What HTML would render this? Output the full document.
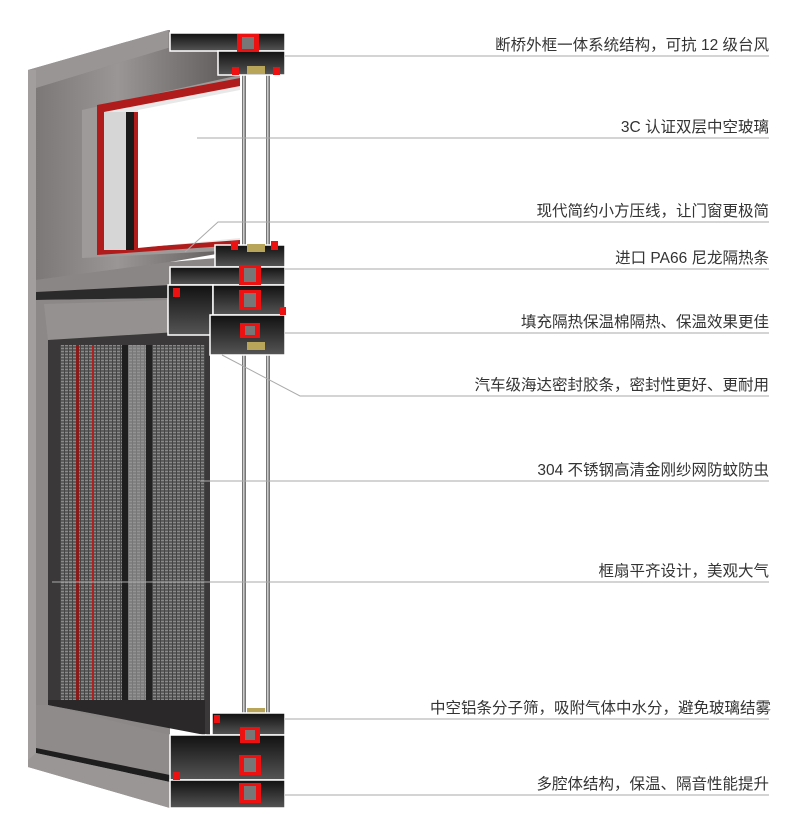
<!DOCTYPE html>
<html><head><meta charset="utf-8"><style>
html,body{margin:0;padding:0;background:#fff;width:800px;height:835px;overflow:hidden}
svg{display:block}
text{font-family:"Liberation Sans","Noto Sans CJK SC",sans-serif;font-size:15.5px;fill:#333}
</style></head><body>
<svg width="800" height="835" viewBox="0 0 800 835" xmlns="http://www.w3.org/2000/svg">
<defs>
<linearGradient id="g1" x1="0" x2="1" y1="0" y2="0"><stop offset="0" stop-color="#7c7878"/><stop offset="0.4" stop-color="#9a9696"/><stop offset="1" stop-color="#5a5656"/></linearGradient>
<pattern id="mesh" width="4" height="3" patternUnits="userSpaceOnUse"><rect width="4" height="3" fill="#5e5e5e"/><rect width="4" height="1" fill="#8a8a8a"/><rect width="1" height="3" fill="#444"/></pattern>
<linearGradient id="blk" x1="0" x2="0" y1="0" y2="1"><stop offset="0" stop-color="#111"/><stop offset="1" stop-color="#555"/></linearGradient>
</defs>
<!-- outer frame -->
<polygon points="28,70 168,30 170,30 170,808 28,767" fill="#8d8989"/>
<polygon points="28,70 168,30 168,48 36,88" fill="#999595"/>
<rect x="28" y="70" width="8" height="697" fill="#a29e9e"/>
<!-- upper pane recess -->
<polygon points="36,88 168,48 240,48 240,250 170,262 36,280" fill="url(#g1)"/>
<polygon points="82,110 240,75 240,250 82,258" fill="#9e9a9a"/>
<polygon points="97,105 240,78 240,245 97,255" fill="#b01c1c"/>
<polygon points="104,112 240,86 240,240 104,250" fill="#e8e8e8"/>
<rect x="104" y="112" width="22" height="138" fill="#d6d6d6"/>
<rect x="126" y="112" width="8" height="138" fill="#1a1a1a"/>
<rect x="134" y="112" width="4" height="138" fill="#b01c1c"/>
<polygon points="138,110 240,90 240,238 138,248" fill="#fff"/>
<!-- transom -->
<polygon points="36,280 170,262 240,256 240,268 170,285 36,292" fill="#8a8686"/>
<polygon points="36,292 170,285 170,298 36,300" fill="#2a2a2a"/>
<!-- lower sash -->
<polygon points="36,300 170,298 170,775 36,760" fill="#8c8888"/>
<polygon points="44,304 170,300 170,335 48,340" fill="#959191"/>
<polygon points="48,340 210,330 210,735 48,705" fill="#3a3838"/>
<rect x="60" y="345" width="145" height="355" fill="url(#mesh)"/>
<rect x="76" y="345" width="3" height="355" fill="#8a1a1a"/>
<rect x="92" y="345" width="2" height="355" fill="#b02020"/>
<rect x="122" y="345" width="6" height="355" fill="#1e1e1e"/>
<rect x="128" y="345" width="18" height="355" fill="#9a9a9a" opacity="0.6"/>
<rect x="146" y="345" width="6" height="355" fill="#222"/>
<polygon points="48,700 205,700 205,735 48,705" fill="#2a2828"/>
<polygon points="36,705 48,705 170,735 170,775 36,748" fill="#8f8b8b"/>
<polygon points="36,748 170,775 170,782 36,753" fill="#1e1e1e"/>
<polygon points="28,760 36,753 170,782 170,808 28,767" fill="#9a9696"/>
<!-- glass -->
<rect x="242" y="70" width="4" height="650" fill="#777"/>
<rect x="243" y="70" width="1.5" height="650" fill="#ccc"/>
<rect x="266" y="70" width="4" height="650" fill="#777"/>
<rect x="267" y="70" width="1.5" height="650" fill="#ccc"/>
<!-- top profile -->
<rect x="170" y="33" width="115" height="18" fill="url(#blk)" stroke="#fff" stroke-width="1.5"/>
<rect x="218" y="51" width="67" height="24" fill="url(#blk)" stroke="#fff" stroke-width="1.5"/>
<rect x="237" y="34" width="22" height="18" fill="#e11"/><rect x="242" y="37" width="12" height="12" fill="#777"/>
<rect x="247" y="66" width="18" height="8" fill="#b8a55a"/>
<rect x="232" y="67" width="7" height="8" fill="#e11"/><rect x="273" y="67" width="7" height="8" fill="#e11"/>
<!-- middle profile -->
<rect x="215" y="245" width="70" height="22" fill="url(#blk)" stroke="#fff" stroke-width="1.5"/>
<rect x="247" y="244" width="18" height="8" fill="#b8a55a"/>
<rect x="231" y="241" width="7" height="9" fill="#e11"/><rect x="271" y="241" width="7" height="9" fill="#e11"/>
<rect x="170" y="267" width="115" height="18" fill="url(#blk)" stroke="#fff" stroke-width="1.5"/>
<rect x="168" y="285" width="45" height="50" fill="url(#blk)" stroke="#fff" stroke-width="1.5"/>
<rect x="213" y="285" width="72" height="30" fill="url(#blk)" stroke="#fff" stroke-width="1.5"/>
<rect x="210" y="315" width="75" height="40" fill="url(#blk)" stroke="#fff" stroke-width="1.5"/>
<rect x="239" y="265" width="22" height="20" fill="#e11"/><rect x="244" y="268" width="12" height="14" fill="#777"/>
<rect x="239" y="290" width="22" height="20" fill="#e11"/><rect x="244" y="293" width="12" height="14" fill="#777"/>
<rect x="240" y="323" width="20" height="15" fill="#e11"/><rect x="245" y="326" width="10" height="9" fill="#777"/>
<rect x="173" y="288" width="7" height="9" fill="#e11"/><rect x="280" y="307" width="6" height="8" fill="#e11"/>
<rect x="247" y="342" width="18" height="8" fill="#b8a55a"/>
<!-- bottom profile -->
<rect x="247" y="708" width="18" height="8" fill="#b8a55a"/>
<rect x="212" y="713" width="73" height="22" fill="url(#blk)" stroke="#fff" stroke-width="1.5"/>
<rect x="170" y="735" width="115" height="45" fill="url(#blk)" stroke="#fff" stroke-width="1.5"/>
<rect x="170" y="780" width="115" height="28" fill="url(#blk)" stroke="#fff" stroke-width="1.5"/>
<rect x="240" y="727" width="20" height="16" fill="#e11"/><rect x="245" y="730" width="10" height="10" fill="#777"/>
<rect x="239" y="755" width="22" height="20" fill="#e11"/><rect x="244" y="758" width="12" height="14" fill="#777"/>
<rect x="239" y="783" width="22" height="20" fill="#e11"/><rect x="244" y="786" width="12" height="14" fill="#777"/>
<rect x="173" y="772" width="7" height="8" fill="#e11"/><rect x="214" y="715" width="6" height="8" fill="#e11"/>
<!-- leader lines -->
<g stroke="#aaa" stroke-width="1" fill="none">
<line x1="285" y1="56" x2="769" y2="56"/>
<line x1="197" y1="138" x2="769" y2="138"/>
<polyline points="185,252 218,222 769,222"/>
<line x1="285" y1="269" x2="769" y2="269"/>
<line x1="285" y1="333" x2="769" y2="333"/>
<polyline points="222,355 300,396 769,396"/>
<line x1="200" y1="481" x2="769" y2="481"/>
<line x1="52" y1="582" x2="769" y2="582"/>
<line x1="285" y1="719" x2="769" y2="719"/>
<line x1="285" y1="795" x2="769" y2="795"/>
</g>
<g text-anchor="end">
<text x="769" y="50">断桥外框一体系统结构，可抗 12 级台风</text>
<text x="769" y="132">3C 认证双层中空玻璃</text>
<text x="769" y="216">现代简约小方压线，让门窗更极简</text>
<text x="769" y="263">进口 PA66 尼龙隔热条</text>
<text x="769" y="327">填充隔热保温棉隔热、保温效果更佳</text>
<text x="769" y="390">汽车级海达密封胶条，密封性更好、更耐用</text>
<text x="769" y="475">304 不锈钢高清金刚纱网防蚊防虫</text>
<text x="769" y="576">框扇平齐设计，美观大气</text>
<text x="771" y="713">中空铝条分子筛，吸附气体中水分，避免玻璃结雾</text>
<text x="769" y="789">多腔体结构，保温、隔音性能提升</text>
</g>
</svg>
</body></html>
